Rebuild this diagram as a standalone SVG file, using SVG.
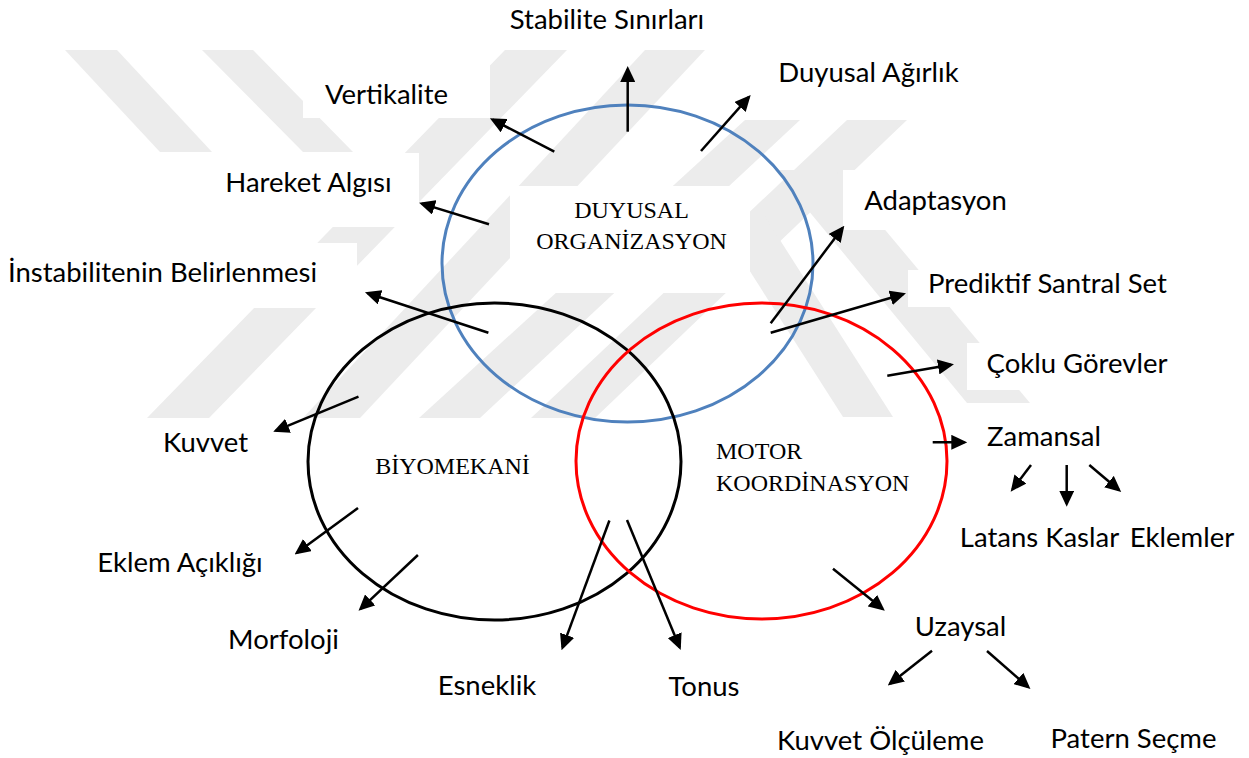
<svg xmlns="http://www.w3.org/2000/svg" width="1249" height="758" viewBox="0 0 1249 758">
<style>
.lbl{font-family:Lato,"Open Sans","Liberation Sans",sans-serif;font-size:27.5px;fill:#000;text-anchor:middle}
.cl{font-family:"Liberation Serif","Times New Roman",serif;font-size:24px;fill:#000}
.wm{fill:#ececec}
.bg{fill:#fff}
.con line{stroke:#000;stroke-width:2.5;marker-end:url(#ah)}
.ell{fill:none;stroke-width:3}
</style>
<defs>
<marker id="ah" markerUnits="userSpaceOnUse" markerWidth="16" markerHeight="15" viewBox="0 0 16 15" refX="13" refY="7.5" orient="auto">
<path d="M0,0 L16,7.5 L0,15 z" fill="#000"/>
</marker>
</defs>
<rect width="1249" height="758" fill="#fff"/>
<g id="watermark">
<polygon class="wm" points="65,50 117,50 212,152 160,152"/>
<polygon class="wm" points="202,50 253,50 353,152 303,152"/>
<polygon class="wm" points="505,50 567,50 209,418 147,418"/>
<polygon class="wm" points="645,50 705,50 360,418 303,418"/>
<polygon class="wm" points="745,120 800,120 480,418 419,418"/>
<polygon class="wm" points="847,120 907,120 595,418 531,418"/>
<polygon class="wm" points="775,170 835,170 1030,403 967,403"/>
<polygon class="wm" points="714,215 764,215 893,417 843,417"/>
<rect class="bg" x="303" y="60" width="187" height="58"/>
<rect class="bg" x="757" y="50" width="230" height="68"/>
<rect class="bg" x="206" y="153" width="213" height="74"/>
<rect class="bg" x="0" y="243" width="357" height="65"/>
<rect class="bg" x="510" y="186" width="240" height="107"/>
<rect class="bg" x="843" y="170" width="200" height="60"/>
<rect class="bg" x="908" y="270" width="280" height="37"/>
<rect class="bg" x="967" y="343" width="220" height="47"/>
</g>
<g id="duyusal">
<ellipse class="ell" cx="627.5" cy="263.5" rx="185.5" ry="158.5" stroke="#4f81bd"/>
<text class="cl" x="631.5" y="218" text-anchor="middle">DUYUSAL</text>
<text class="cl" x="631.5" y="249" text-anchor="middle">ORGANİZASYON</text>
</g>
<g id="biyomekani">
<ellipse class="ell" cx="494.5" cy="461.5" rx="186.5" ry="158.5" stroke="#000"/>
<text class="cl" x="452.5" y="474" text-anchor="middle">BİYOMEKANİ</text>
</g>
<g id="motor">
<ellipse class="ell" cx="761.5" cy="461" rx="185.5" ry="158" stroke="#ff0000"/>
<text class="cl" x="716" y="459">MOTOR</text>
<text class="cl" x="716" y="491">KOORDİNASYON</text>
</g>
<g id="connectors" class="con">
<line x1="627.7" y1="131.7" x2="627.7" y2="69"/>
<line x1="554.3" y1="151.7" x2="492.6" y2="119.7"/>
<line x1="701" y1="151" x2="748.7" y2="97.2"/>
<line x1="489" y1="224.3" x2="421.9" y2="203.6"/>
<line x1="770.7" y1="323.3" x2="842.5" y2="228.1"/>
<line x1="770.7" y1="332.7" x2="903.1" y2="294.2"/>
<line x1="887.3" y1="375.7" x2="951" y2="364.8"/>
<line x1="932.7" y1="442.3" x2="964.3" y2="442.3"/>
<line x1="1031" y1="465" x2="1012.5" y2="489.3"/>
<line x1="1066.7" y1="465" x2="1066.7" y2="503.7"/>
<line x1="1089.3" y1="465" x2="1118.9" y2="490"/>
<line x1="488.4" y1="332.7" x2="367.8" y2="293.2"/>
<line x1="358.5" y1="396.7" x2="276" y2="430.7"/>
<line x1="358" y1="508" x2="297" y2="552.8"/>
<line x1="417.9" y1="555" x2="360.7" y2="608.8"/>
<line x1="609.4" y1="520.5" x2="562.6" y2="647.4"/>
<line x1="627" y1="520" x2="679.6" y2="647.2"/>
<line x1="833" y1="568.8" x2="882.5" y2="608.8"/>
<line x1="932" y1="650.7" x2="890.1" y2="683.7"/>
<line x1="987" y1="651" x2="1028.2" y2="687"/>
</g>
<g id="labels">
<text id="stabilite" class="lbl" x="607" y="29">Stabilite Sınırları</text>
<text id="duyusal-agirlik" class="lbl" x="868.5" y="82">Duyusal Ağırlık</text>
<text id="vertikalite" class="lbl" x="386.5" y="104">Vertikalite</text>
<text id="hareket" class="lbl" x="308.5" y="192">Hareket Algısı</text>
<text id="adaptasyon" class="lbl" x="935.5" y="210">Adaptasyon</text>
<text id="instabilite" class="lbl" x="162.5" y="282">İnstabilitenin Belirlenmesi</text>
<text id="prediktif" class="lbl" x="1047.5" y="293">Prediktif Santral Set</text>
<text id="coklu" class="lbl" x="1077" y="373">Çoklu Görevler</text>
<text id="zamansal" class="lbl" x="1044" y="446">Zamansal</text>
<text id="latans" class="lbl" x="1039.5" y="547">Latans Kaslar</text>
<text id="eklemler" class="lbl" x="1182" y="547">Eklemler</text>
<text id="kuvvet" class="lbl" x="205.5" y="452">Kuvvet</text>
<text id="eklem" class="lbl" x="180" y="572">Eklem Açıklığı</text>
<text id="morfoloji" class="lbl" x="283.5" y="649">Morfoloji</text>
<text id="esneklik" class="lbl" x="487" y="695">Esneklik</text>
<text id="tonus" class="lbl" x="704" y="696">Tonus</text>
<text id="uzaysal" class="lbl" x="960.5" y="636">Uzaysal</text>
<text id="kuvvet-olc" class="lbl" x="880.5" y="750">Kuvvet Ölçüleme</text>
<text id="patern" class="lbl" x="1133.5" y="748">Patern Seçme</text>
</g>
</svg>
